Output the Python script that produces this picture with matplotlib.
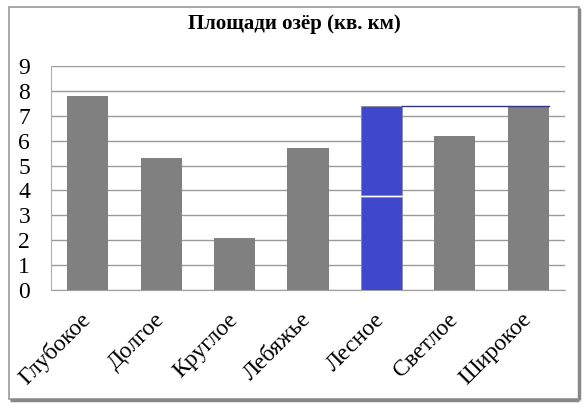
import numpy as np
import matplotlib.pyplot as plt
from matplotlib.patches import Rectangle

lakes = ['Глубокое', 'Долгое', 'Круглое', 'Лебяжье', 'Лесное', 'Светлое', 'Широкое']
areas = [7.8, 5.3, 2.1, 5.7, 7.4, 6.2, 7.4]
highlight = 'Лесное'
split_at = [3.72, 3.8]   # white gap inside the blue bar

plt.rcParams['font.family'] = ['Liberation Serif', 'DejaVu Serif']

fig = plt.figure(figsize=(5.88, 4.08), dpi=100)
ax = fig.add_axes([51 / 588, 118 / 408, 514 / 588, 224 / 408])

x = np.arange(len(lakes))
w = 0.56
colors = ['#808080'] * len(lakes)
hi = lakes.index(highlight)
colors[hi] = 'none'
ax.bar(x, areas, width=w, color=colors, zorder=3)

# blue bar in two pieces
ax.bar(x[hi], split_at[0], width=w, color='#3f48cc', edgecolor='#8a8a9a', lw=0.6, zorder=3)
ax.bar(x[hi], areas[hi] - split_at[1], bottom=split_at[1], width=w,
       color='#3f48cc', edgecolor='#8a8a9a', lw=0.6, zorder=3)
# thin line running from its top
ax.plot([x[hi] + w / 2, x[-1] + w / 2], [areas[hi], areas[hi]], color='#333388', lw=1, zorder=4)

ax.set_xlim(-0.5, len(lakes) - 0.5)
ax.set_ylim(0, 9)
ax.set_yticks(range(10))
ax.yaxis.grid(True, color='#9a9a9a', lw=1)
ax.set_axisbelow(True)
ax.tick_params(length=0)
ax.tick_params(axis='y', labelsize=17, pad=15)
ax.set_xticks(x)
ax.set_xticklabels(lakes, rotation=45, ha='right', va='center',
                   rotation_mode='anchor', fontsize=17)
ax.tick_params(axis='x', pad=19)
for s in ['top', 'right']:
    ax.spines[s].set_visible(False)
ax.spines['left'].set_color('#b0b0b0')
ax.spines['bottom'].set_color('#a0a0a0')

fig.text(0.5, 0.942, 'Площади озёр (кв. км)', ha='center', va='center',
         fontsize=15, fontweight='bold')

# chart border
fig.patches.append(Rectangle((9 / 588, 9 / 408), 570 / 588, 392 / 408,
                             transform=fig.transFigure, fill=False,
                             edgecolor='#999999', lw=1.2))
fig.patches.append(Rectangle((10 / 588, 8 / 408), 569 / 588, 0,
                             transform=fig.transFigure, fill=False,
                             edgecolor='#888888', lw=2.5))
fig.patches.append(Rectangle((579 / 588, 8 / 408), 0, 392 / 408,
                             transform=fig.transFigure, fill=False,
                             edgecolor='#888888', lw=2.5))

fig.savefig('out.png', dpi=100)
